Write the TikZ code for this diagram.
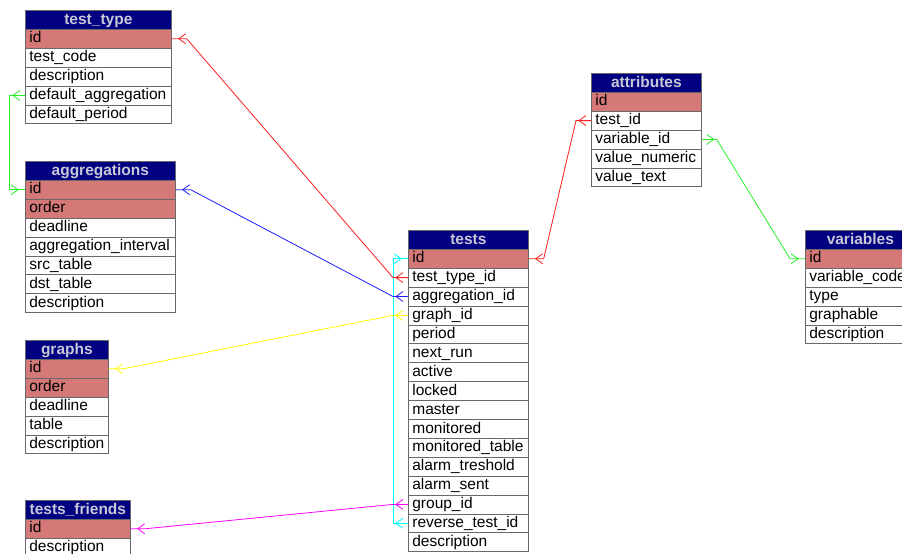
\documentclass[tikz,border=0pt]{standalone}
\usepackage{fontspec}
\setmainfont{Liberation Sans}
\usetikzlibrary{calc}
\definecolor{hdrbg}{RGB}{0,0,128}
\definecolor{hdrtx}{RGB}{200,200,215}
\definecolor{pkbg}{RGB}{212,120,120}
\definecolor{bord}{RGB}{105,105,105}
\definecolor{cred}{RGB}{255,30,30}
\definecolor{cblue}{RGB}{30,30,255}
\definecolor{cgreen}{RGB}{40,240,40}
\definecolor{cyel}{RGB}{255,255,0}
\definecolor{cmag}{RGB}{255,0,255}
\definecolor{ccyan}{RGB}{0,255,255}
\tikzset{
  cell/.style={draw=bord, line width=0.7pt, anchor=north west, minimum height=18.9pt,
    inner xsep=4pt, inner ysep=0pt, text height=11.5pt, text depth=3pt,
    font=\fontsize{15.5}{18}\selectfont},
  hdr/.style={cell, fill=hdrbg, text=hdrtx, align=center, font=\fontsize{15.5}{18}\selectfont\bfseries},
  pk/.style={cell, fill=pkbg, align=left},
  fld/.style={cell, fill=white, align=left},
  conn/.style={line width=0.8pt},
}
\newcommand\mktbl[6]{%
  \pgfmathsetmacro\tw{#4-8}%
  \node[hdr, text width=\tw pt] (#1) at (#2,#3) {#5};
  \foreach \k/\t/\s [count=\i] in {#6} {
    \node[\s, text width=\tw pt] (#1-\k) at (#2,{#3+18.9*\i}) {\t};
  }%
}
\newcommand\pkm[3]{\draw[conn,#1] ($(#2)+(14*#3,-5)$) -- ($(#2)+(7*#3,0)$) -- ($(#2)+(14*#3,5)$);}
\newcommand\fkm[3]{\draw[conn,#1] ($(#2)+(5*#3,-5)$) -- ($(#2)+(12*#3,0)$) -- ($(#2)+(5*#3,5)$);}
\begin{document}
\begin{tikzpicture}[x=1pt,y=-1pt]
\useasboundingbox[fill=white] (0,0) rectangle (902,554);
\mktbl{tt}{25}{10}{146}{test\_type}{id/id/pk, tc/test\_code/fld, de/description/fld, da/default\_aggregation/fld, dp/default\_period/fld}
\mktbl{ag}{25}{161}{150}{aggregations}{id/id/pk, or/order/pk, dl/deadline/fld, ai/aggregation\_interval/fld, st/src\_table/fld, dt/dst\_table/fld, de/description/fld}
\mktbl{gr}{25}{340}{83}{graphs}{id/id/pk, or/order/pk, dl/deadline/fld, tb/table/fld, de/description/fld}
\mktbl{tf}{25}{500}{105}{tests\_friends}{id/id/pk, de/description/fld}
\mktbl{ts}{408}{230}{120}{tests}{id/id/pk, ttid/test\_type\_id/fld, agid/aggregation\_id/fld, gid/graph\_id/fld, pe/period/fld, nr/next\_run/fld, ac/active/fld, lo/locked/fld, ma/master/fld, mo/monitored/fld, mt/monitored\_table/fld, at/alarm\_treshold/fld, as/alarm\_sent/fld, grp/group\_id/fld, rev/reverse\_test\_id/fld, de/description/fld}
\mktbl{at}{591}{73}{110}{attributes}{id/id/pk, tid/test\_id/fld, vid/variable\_id/fld, vn/value\_numeric/fld, vt/value\_text/fld}
\mktbl{va}{805}{230}{110}{variables}{id/id/pk, vc/variable\_code/fld, ty/type/fld, gp/graphable/fld, de/description/fld}
% connectors
\draw[conn,ccyan] (ts-id.west) -- ++(-15,0) |- (ts-rev.west);
\pkm{ccyan}{ts-id.west}{-1}\fkm{ccyan}{ts-rev.west}{-1}
\draw[conn,cred] (tt-id.east) -- ++(15,0) -- ($(ts-ttid.west)+(-15,0)$) -- (ts-ttid.west);
\pkm{cred}{tt-id.east}{1}\fkm{cred}{ts-ttid.west}{-1}
\draw[conn,cblue] (ag-id.east) -- ++(15,0) -- ($(ts-agid.west)+(-15,0)$) -- (ts-agid.west);
\pkm{cblue}{ag-id.east}{1}\fkm{cblue}{ts-agid.west}{-1}
\draw[conn,cgreen] (tt-da.west) -- ++(-16,0) |- (ag-id.west);
\fkm{cgreen}{tt-da.west}{-1}\pkm{cgreen}{ag-id.west}{-1}
\draw[conn,cyel] (ts-gid.west) -- ++(-15,0) -- ($(gr-id.east)+(15,0)$) -- (gr-id.east);
\fkm{cyel}{ts-gid.west}{-1}\pkm{cyel}{gr-id.east}{1}
\draw[conn,cmag] (ts-grp.west) -- ++(-15,0) -- ($(tf-id.east)+(15,0)$) -- (tf-id.east);
\fkm{cmag}{ts-grp.west}{-1}\pkm{cmag}{tf-id.east}{1}
\draw[conn,cred] (ts-id.east) -- ++(15,0) -- ($(at-tid.west)+(-15,0)$) -- (at-tid.west);
\pkm{cred}{ts-id.east}{1}\fkm{cred}{at-tid.west}{-1}
\draw[conn,cgreen] (at-vid.east) -- ++(15,0) -- ($(va-id.west)+(-15,0)$) -- (va-id.west);
\fkm{cgreen}{at-vid.east}{1}\pkm{cgreen}{va-id.west}{-1}
\end{tikzpicture}
\end{document}
